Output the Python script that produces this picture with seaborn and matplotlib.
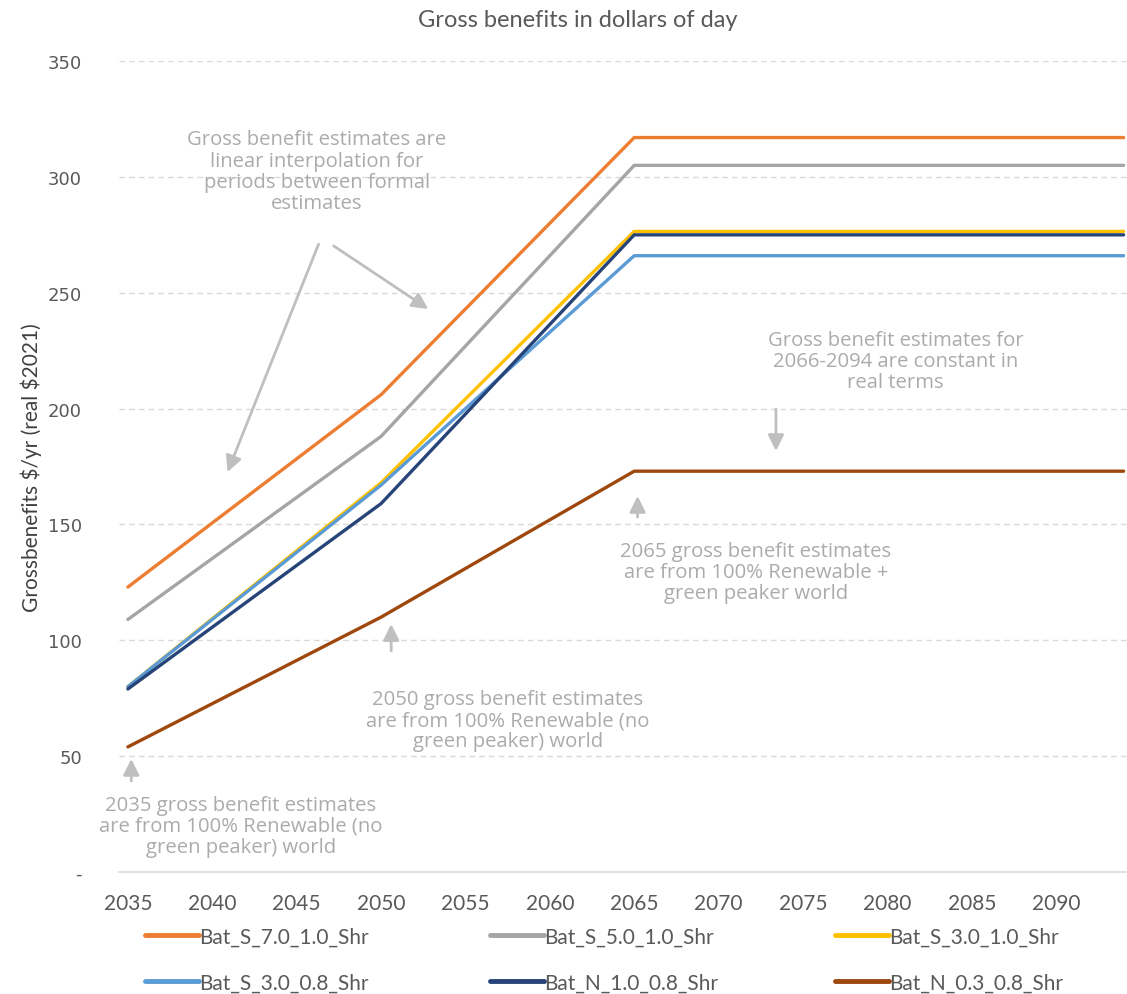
import matplotlib
matplotlib.use("Agg")
import matplotlib.pyplot as plt
import seaborn as sns
import pandas as pd
from matplotlib.lines import Line2D

# Formal estimate years; values in between are linear, constant after 2065
years = [2035, 2050, 2065, 2094]

bat_s_7_0_1_0 = [123, 206, 317, 317]
bat_s_5_0_1_0 = [109, 188, 305, 305]
bat_s_3_0_1_0 = [80, 168, 276.5, 276.5]
bat_s_3_0_0_8 = [80, 167, 266, 266]
bat_n_1_0_0_8 = [79, 159, 275, 275]
bat_n_0_3_0_8 = [54, 110, 173, 173]

series_names = ["Bat_S_7.0_1.0_Shr", "Bat_S_5.0_1.0_Shr", "Bat_S_3.0_1.0_Shr",
                "Bat_S_3.0_0.8_Shr", "Bat_N_1.0_0.8_Shr", "Bat_N_0.3_0.8_Shr"]
series_values = [bat_s_7_0_1_0, bat_s_5_0_1_0, bat_s_3_0_1_0,
                 bat_s_3_0_0_8, bat_n_1_0_0_8, bat_n_0_3_0_8]
series_colors = ["#ED7D31", "#A5A5A5", "#FFC000", "#5B9BD5", "#264478", "#9E480E"]

x_ticks = list(range(2035, 2091, 5))
y_ticks = [0, 50, 100, 150, 200, 250, 300, 350]
y_tick_labels = ["-", "50", "100", "150", "200", "250", "300", "350"]

rows = []
for name, vals in zip(series_names, series_values):
    for yr, v in zip(years, vals):
        rows.append({"Year": yr, "Benefit": v, "Scenario": name})
df = pd.DataFrame(rows)

sns.set_theme(style="white")
narrow = ["Lato", "DejaVu Sans"]
light = ["Open Sans", "DejaVu Sans"]

fig = plt.figure(figsize=(11.27, 9.95), dpi=100)
ax = fig.add_axes([0.106, 0.1226, 0.894, 0.815])

sns.lineplot(data=df, x="Year", y="Benefit", hue="Scenario",
             hue_order=series_names, palette=series_colors,
             linewidth=2.4, ax=ax, legend=False, estimator=None)

ax.set_xlim(2034.5, 2094.2)
ax.set_ylim(0, 350)
for s in ["top", "right", "left"]:
    ax.spines[s].set_visible(False)
ax.spines["bottom"].set_color("#D9D9D9")
ax.spines["bottom"].set_linewidth(1.2)

for yv in y_ticks[1:]:
    ax.axhline(yv, color="#D9D9D9", lw=1, ls=(0, (4, 3)), zorder=0)

ax.set_xticks(x_ticks)
ax.set_xticklabels([str(t) for t in x_ticks], family=narrow, fontsize=15, color="#595959")
ax.set_yticks(y_ticks)
ax.set_yticklabels(y_tick_labels, family=["DejaVu Sans"], fontsize=13, color="#595959")
ax.tick_params(axis="both", length=0)
ax.tick_params(axis="y", pad=27)
ax.tick_params(axis="x", pad=15)

ax.set_xlabel("")
ax.set_ylabel("Grossbenefits \\$/yr (real \\$2021)", family=narrow, fontsize=15,
              color="#404040", labelpad=4)

fig.text(0.513, 0.979, "Gross benefits in dollars of day", ha="center", va="center",
         family=narrow, fontsize=17, color="#595959")

note_color = "#ABABAB"
arrow_kw = dict(arrowstyle="-|>", color="#BFBFBF", lw=2, mutation_scale=24,
                shrinkA=0, shrinkB=0)

notes = [
    ("Gross benefit estimates are\nlinear interpolation for\nperiods between formal\nestimates", 2046.2, 302.5),
    ("Gross benefit estimates for\n2066-2094 are constant in\nreal terms", 2080.5, 220.5),
    ("2065 gross benefit estimates\nare from 100% Renewable +\ngreen peaker world", 2072.2, 129.5),
    ("2050 gross benefit estimates\nare from 100% Renewable (no\ngreen peaker) world", 2057.5, 65.6),
    ("2035 gross benefit estimates\nare from 100% Renewable (no\ngreen peaker) world", 2041.7, 19.9),
]
for txt, tx, ty in notes:
    ax.text(tx, ty, txt, ha="center", va="center", family=light, fontsize=14.6,
            color=note_color, linespacing=1.08)

arrows = [
    ((2046.3, 271), (2040.9, 172.6)),
    ((2047.2, 270.2), (2052.8, 243)),
    ((2073.4, 199.8), (2073.4, 181.7)),
    ((2065.2, 153.2), (2065.2, 162.3)),
    ((2050.6, 95.4), (2050.6, 107)),
    ((2035.2, 39.3), (2035.2, 48.8)),
]
for start, end in arrows:
    ax.annotate("", xy=end, xytext=start, arrowprops=arrow_kw)

# Legend: three columns of two entries, read row by row
handles = [Line2D([0], [0], color=c, lw=3.5) for c in series_colors]
col_x = [145 / 1127, 490 / 1127, 835 / 1127]
for k, x0 in enumerate(col_x):
    idx = [k, k + 3]
    leg = fig.legend([handles[i] for i in idx], [series_names[i] for i in idx],
                     loc="upper left", bbox_to_anchor=(x0, 0.068), frameon=False,
                     prop={"family": narrow, "size": 15}, handlelength=2.6,
                     handletextpad=0.0, labelspacing=1.25, borderpad=0.0,
                     borderaxespad=0.0)
    for t in leg.get_texts():
        t.set_color("#595959")

fig.savefig("out.png", dpi=100)
